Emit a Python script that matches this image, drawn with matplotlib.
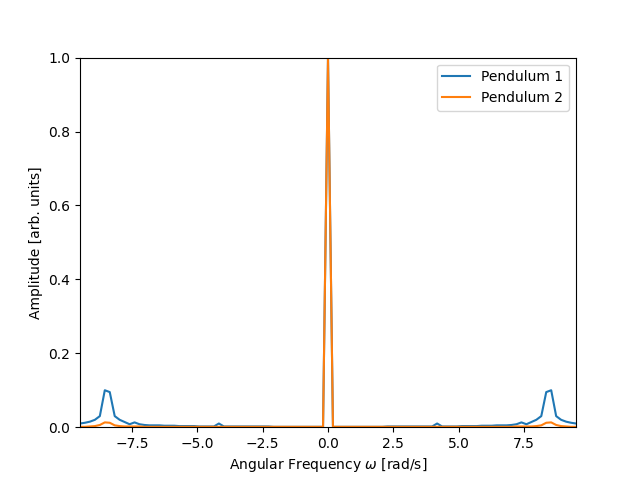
import matplotlib
matplotlib.use('Agg')
import matplotlib.pyplot as plt
import numpy as np

# angular frequency grid (rad/s)
omega = np.linspace(-9.5, 9.5, 101)

# amplitudes for omega <= 0 (spectrum is symmetric)
amp1_left = [0.010, 0.012, 0.015, 0.020, 0.030, 0.100, 0.095, 0.030, 0.020, 0.014,
             0.008, 0.013, 0.008, 0.006, 0.005, 0.005, 0.005, 0.004, 0.004, 0.004,
             0.003, 0.003, 0.003, 0.003, 0.002, 0.002, 0.002, 0.002, 0.010, 0.002,
             0.002, 0.002, 0.002, 0.002, 0.002, 0.002, 0.002, 0.002, 0.002, 0.001,
             0.001, 0.001, 0.001, 0.001, 0.001, 0.001, 0.001, 0.001, 0.001, 0.001,
             1.000]
amp2_left = [0.001, 0.001, 0.002, 0.003, 0.006, 0.013, 0.012, 0.005, 0.003, 0.002,
             0.002, 0.002, 0.002, 0.001, 0.001, 0.001, 0.001, 0.001, 0.001, 0.001,
             0.001, 0.001, 0.001, 0.001, 0.001, 0.001, 0.001, 0.001, 0.001, 0.001,
             0.001, 0.001, 0.001, 0.001, 0.001, 0.001, 0.001, 0.001, 0.001, 0.001,
             0.001, 0.001, 0.001, 0.001, 0.001, 0.001, 0.001, 0.001, 0.001, 0.001,
             1.000]

amp1 = amp1_left + amp1_left[-2::-1]
amp2 = amp2_left + amp2_left[-2::-1]

plt.figure(figsize=(6.4, 4.8), dpi=100)
plt.plot(omega, amp1, label="Pendulum 1")
plt.plot(omega, amp2, label="Pendulum 2")
plt.xlim(omega[0], omega[-1])
plt.ylim(0, 1)
plt.xlabel(r"Angular Frequency $\omega$ [rad/s]")
plt.ylabel("Amplitude [arb. units]")
plt.legend(loc="upper right")
plt.savefig("out.png")
